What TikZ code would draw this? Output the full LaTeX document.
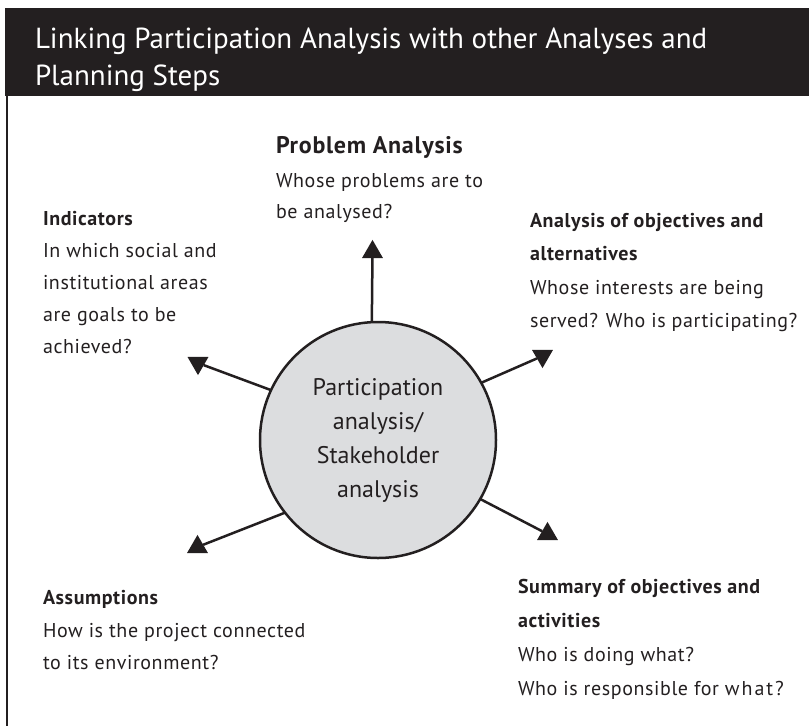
\documentclass[tikz,border=0pt]{standalone}
\usepackage{fontspec}
\setmainfont{PT Sans}
\newfontfamily\spacedfont[LetterSpace=3]{PT Sans}
\newfontfamily\widefont[LetterSpace=10]{PT Sans}
\usetikzlibrary{shapes.geometric}
\definecolor{ink}{HTML}{231F20}
\definecolor{discfill}{HTML}{DCDDDF}
\newcommand\blockof[2]{\vtop{\baselineskip=#1pt\lineskiplimit=-20pt #2}}
\begin{document}
\begin{tikzpicture}[x=1pt,y=-1pt,
  every node/.style={inner sep=0pt,outer sep=0pt},
  titletxt/.style={anchor=base west,text=white,font=\fontsize{29}{37}\selectfont},
  headtxt/.style={anchor=base west,text=ink,font=\spacedfont\fontsize{20}{32}\selectfont\bfseries},
  bigheadtxt/.style={anchor=base west,text=ink,font=\spacedfont\fontsize{24}{32}\selectfont\bfseries},
  bodytxt/.style={anchor=base west,text=ink,font=\spacedfont\fontsize{20}{32}\selectfont},
  disc/.style={circle,draw=ink,line width=2.5pt,fill=discfill,minimum size=236pt,
    align=center,text=ink,font=\fontsize{24}{34}\selectfont},
  uptri/.style={regular polygon,regular polygon sides=3,fill=ink,minimum size=24.2pt},
  downtri/.style={uptri,shape border rotate=180},
  conn/.style={draw=ink,line width=2.5pt}
]
\useasboundingbox (0,0) rectangle (809,726);
\fill[ink] (5,8) rectangle (809,96);
\draw[ink,line width=2.5pt] (7,95) -- (7,726);
\node[titletxt] (title) at (35,48) {\blockof{37}{\hbox{Linking Participation Analysis with other Analyses and}\hbox{Planning Steps}}};

\node[bigheadtxt] (probh) at (276,153) {Problem Analysis};
\node[bodytxt] (probb) at (276,187) {\blockof{31}{\hbox{Whose problems are to}\hbox{be analysed?}}};

\node[headtxt] (indh) at (43,225) {Indicators};
\node[bodytxt] (indb) at (43,257) {\blockof{32}{\hbox{In which social and}\hbox{institutional areas}\hbox{are goals to be}\hbox{achieved?}}};

\node[headtxt] (objh) at (530,227) {\blockof{33}{\hbox{Analysis of objectives and}\hbox{alternatives}}};
\node[bodytxt] (objb) at (530,294) {\blockof{33}{\hbox{Whose interests are being}\hbox{served? Who is participating?}}};

\node[headtxt] (assh) at (43,604) {Assumptions};
\node[bodytxt] (assb) at (43,637) {\blockof{32}{\hbox{How is the project connected}\hbox{to its environment?}}};

\node[headtxt] (sumh) at (518,593) {\blockof{34}{\hbox{Summary of objectives and}\hbox{activities}}};
\node[bodytxt] (sumb) at (518,661) {\blockof{34}{\hbox{Who is doing what?}\hbox{Who is responsible for {\widefont\fontsize{20}{32}\selectfont what?}}}};

\node[disc] (c) at (378,440) {Participation\\analysis/\\Stakeholder\\analysis};

\node[uptri] (t1) at (372.5,252) {};
\node[downtri] (t2) at (542.5,356) {};
\node[downtri] (t3) at (198,363) {};
\node[uptri] (t4) at (547.5,534) {};
\node[uptri] (t5) at (197.5,547) {};

\draw[conn] (c.93) -- (t1);
\draw[conn] (c.29) -- (t2);
\draw[conn] (c.155) -- (t3);
\draw[conn] (c.330) -- (t4);
\draw[conn] (c.218) -- (t5);
\end{tikzpicture}
\end{document}
